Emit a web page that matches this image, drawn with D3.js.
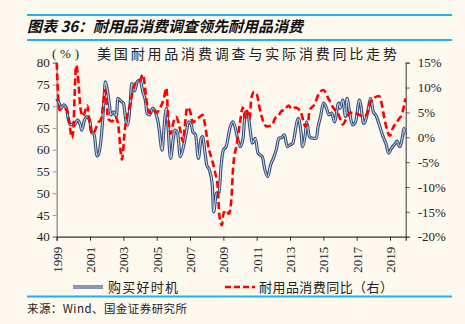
<!DOCTYPE html>
<html>
<head>
<meta charset="utf-8">
<script src="https://cdn.jsdelivr.net/npm/d3@7"></script>
<style>
  html, body { margin: 0; padding: 0; background: #fdf9ef; }
  svg { display: block; }
  .cjk { font-family: "Noto Sans CJK SC", sans-serif; }
  .num { font-family: "Liberation Serif", "DejaVu Serif", serif; }
</style>
</head>
<body>
<svg id="chart"></svg>
<script>
// months counted from Jan 1999
const goodTimeMonth = [0, 2, 3, 5, 7, 8, 10, 12, 13, 15, 17, 18, 20, 22, 24, 25, 27, 29, 30, 32, 34, 35, 36, 38, 39, 41, 43, 44, 46, 48, 50, 51, 53, 54, 56, 58, 60, 62, 64, 65, 67, 69, 71, 73, 76, 77, 79, 80, 82, 84, 85, 87, 89, 91, 93, 95, 97, 98, 100, 102, 104, 105, 107, 108, 110, 112, 113, 115, 117, 118, 120, 122, 125, 127, 130, 132, 134, 136, 138, 139, 141, 143, 145, 148, 150, 152, 154, 156, 158, 160, 162, 164, 166, 168, 170, 173, 174, 176, 177, 179, 180, 182, 185, 187, 188, 190, 192, 194, 196, 198, 200, 203, 204, 206, 208, 209, 211, 213, 215, 218, 219, 221, 224, 226, 228, 230, 232, 235, 237, 239, 241, 244, 245, 247, 249, 250, 251];
const goodTime = [71.8, 70.5, 69.5, 70.3, 69.6, 67.6, 65.7, 66.0, 65.7, 66.8, 65.7, 64.5, 66.8, 67.6, 66.4, 64.1, 63.4, 58.6, 58.8, 62.6, 71, 75.6, 74.5, 70.3, 68, 68.7, 67.6, 71.8, 71.2, 70.7, 66.4, 65.7, 71, 75.2, 73.5, 75.6, 76, 73.3, 71, 68.4, 68, 69.5, 68.7, 66.4, 59.9, 64, 69.5, 66, 58, 62.6, 64.5, 63.8, 58.4, 60.3, 63.4, 66.4, 65.7, 64.1, 63.4, 58, 62.6, 63, 58.8, 56.5, 55.3, 51.9, 45.7, 50, 50.3, 54.9, 59.9, 60.7, 65.3, 66.4, 63, 60.7, 62.2, 68.7, 67.8, 65.3, 61.5, 62.6, 59.2, 58.4, 55.3, 53.8, 56.5, 58, 59.9, 62.6, 62.8, 63.4, 60.7, 61.1, 61.5, 66.4, 67.2, 63.8, 60.7, 63.5, 66.4, 63, 62.6, 62.6, 64.9, 67.6, 70.7, 69.8, 68, 68.4, 66.4, 70.7, 69.5, 71.4, 67.6, 71.8, 68.4, 65.7, 66.2, 71.4, 70.2, 66, 68.7, 71.8, 68.7, 67.8, 66, 63, 61.5, 59.2, 60.3, 61.5, 62, 60.7, 63, 64.9, 63.4];

const durableMonth = [0, 2, 5, 7, 9, 11, 12, 13, 14, 16, 17, 19, 22, 24, 26, 30, 32, 35, 37, 40, 42, 44, 47, 49, 53, 56, 60, 62, 65, 67, 70, 72, 74, 77, 79, 80, 82, 84, 86, 89, 91, 92, 94, 96, 98, 101, 103, 105, 107, 109, 112, 114, 116, 117, 119, 120, 122, 124, 126, 127, 130, 132, 134, 136, 137, 139, 140, 142, 144, 146, 149, 151, 155, 157, 160, 162, 164, 167, 169, 172, 174, 176, 179, 181, 182, 186, 188, 192, 196, 199, 203, 206, 209, 211, 214, 218, 221, 223, 226, 229, 232, 234, 236, 240, 242, 246, 249, 251];
const durableYoY = [15, 5.5, 5.5, 5.7, 3, -0.1, 1.5, 9.1, 14.5, 10, 6, 4.2, 6.4, 2.2, 0.7, 3, 3.7, 9.5, 3.7, 3.2, 4.1, 3, -4.5, 1.4, 6.8, 10.6, 11.4, 12.6, 6.8, 4.9, 5.5, 4.9, 5.7, 7.6, 9.9, 5.3, 0.7, 3, 4.1, 1.4, -0.9, 1.5, 6, 5.3, 3, 3.7, 4.1, 4.5, 2.2, -1.6, -4.7, -7, -10.1, -15.4, -17.7, -15.4, -14.7, -15.4, -11.6, -6.2, -0.9, 3, 6, 3.9, 5.3, 3.7, 7.6, 9.1, 8.7, 6, 3, 2.2, 2.4, 3.7, 4.5, 5.3, 5.5, 6.4, 5.7, 6, 5.7, 4.9, 2.2, 3, 5.3, 6.8, 8.3, 9.5, 7.6, 6, 4.5, 2.6, 4.1, 4.9, 4.9, 4.5, 4.1, 4.5, 7.2, 8, 8.3, 6.8, 3.7, 0.3, 1.8, 3.5, 5, 7.8];

const yearTicks = [1999, 2001, 2003, 2005, 2007, 2009, 2011, 2013, 2015, 2017, 2019];
const leftTicks = [40, 45, 50, 55, 60, 65, 70, 75, 80];
const rightTicks = [-20, -15, -10, -5, 0, 5, 10, 15];
const seriesNames = ["购买好时机", "耐用品消费同比（右）"];

const width = 465, height = 324;
const plot = {left: 56.7, right: 405.7, top: 62.7, bottom: 236.7};

const svg = d3.select("#chart")
  .attr("width", width)
  .attr("height", height);

svg.append("rect")
  .attr("width", width).attr("height", height)
  .attr("fill", "#fdf9ef");

const x = d3.scaleLinear()
  .domain([0, 251.3])
  .range([plot.left, plot.right]);

const yL = d3.scaleLinear()
  .domain([40, 80])
  .range([plot.bottom, plot.top]);

const yR = d3.scaleLinear()
  .domain([-20, 15])
  .range([plot.bottom, plot.top]);

// header rules and title
const rule = y => svg.append("line")
  .attr("x1", 27).attr("x2", 452)
  .attr("y1", y).attr("y2", y)
  .attr("stroke", "#1eb2ef").attr("stroke-width", 2);
rule(15);
rule(40);
rule(296.5);

svg.append("text")
  .attr("class", "cjk")
  .attr("x", 27).attr("y", 31.5)
  .attr("font-size", 15).attr("font-weight", "bold").attr("font-style", "italic")
  .attr("fill", "#111")
  .text("图表 36：耐用品消费调查领先耐用品消费");

svg.append("text")
  .attr("class", "num")
  .attr("x", 52).attr("y", 58)
  .attr("font-size", 13).attr("fill", "#222")
  .attr("textLength", 27).attr("lengthAdjust", "spacing")
  .text("(%)");

svg.append("text")
  .attr("class", "cjk")
  .attr("x", 97).attr("y", 58.5)
  .attr("font-size", 14).attr("fill", "#222")
  .attr("textLength", 300).attr("lengthAdjust", "spacing")
  .text("美国耐用品消费调查与实际消费同比走势");

// axes
const left = svg.append("g")
  .attr("transform", `translate(${plot.left},0)`)
  .call(d3.axisLeft(yL).tickValues(leftTicks).tickSize(4).tickPadding(3));
left.select(".domain").attr("stroke", "#9a9a9a").attr("stroke-width", 1.5);
left.selectAll(".tick line").attr("stroke", "#9a9a9a");

const right = svg.append("g")
  .attr("transform", `translate(${plot.right},0)`)
  .call(d3.axisRight(yR).tickValues(rightTicks).tickSize(4).tickPadding(8).tickFormat(d => d + "%"));
right.select(".domain").attr("stroke", "#555").attr("stroke-width", 1.2);
right.selectAll(".tick line").attr("stroke", "#555");

const bottom = svg.append("g")
  .attr("transform", `translate(0,${plot.bottom})`)
  .call(d3.axisBottom(x).tickValues(yearTicks.map(yr => (yr - 1999) * 12)).tickSize(4).tickFormat((d, i) => yearTicks[i]));
bottom.select(".domain").attr("stroke", "#333").attr("stroke-width", 1.2);
bottom.selectAll(".tick line").attr("stroke", "#333");
bottom.selectAll("text")
  .attr("transform", "rotate(-90)")
  .attr("text-anchor", "end")
  .attr("x", -10).attr("y", 0).attr("dy", "0.35em");

svg.selectAll(".tick text")
  .attr("class", "num")
  .attr("font-size", 13)
  .attr("fill", "#222");

// series
const blueLine = d3.line()
  .x((d, i) => x(goodTimeMonth[i]))
  .y(d => yL(d))
  .curve(d3.curveMonotoneX);

const redLine = d3.line()
  .x((d, i) => x(durableMonth[i]))
  .y(d => yR(d))
  .curve(d3.curveMonotoneX);

svg.append("path")
  .attr("d", blueLine(goodTime))
  .attr("fill", "none").attr("stroke", "#34507f")
  .attr("stroke-width", 3.2).attr("stroke-linejoin", "round");
svg.append("path")
  .attr("d", blueLine(goodTime))
  .attr("fill", "none").attr("stroke", "#dde3ee")
  .attr("stroke-width", 1).attr("stroke-linejoin", "round");

svg.append("path")
  .attr("d", redLine(durableYoY))
  .attr("fill", "none").attr("stroke", "#ff0000")
  .attr("stroke-width", 2.6).attr("stroke-dasharray", "7,3.5");

// legend
const legendY = 287;
svg.append("line")
  .attr("x1", 73).attr("x2", 103).attr("y1", legendY).attr("y2", legendY)
  .attr("stroke", "#34507f").attr("stroke-width", 3.2);
svg.append("line")
  .attr("x1", 73).attr("x2", 103).attr("y1", legendY).attr("y2", legendY)
  .attr("stroke", "#dde3ee").attr("stroke-width", 1);
svg.append("line")
  .attr("x1", 225).attr("x2", 255).attr("y1", legendY).attr("y2", legendY)
  .attr("stroke", "#ff0000").attr("stroke-width", 2.6).attr("stroke-dasharray", "6,3");

svg.append("text")
  .attr("class", "cjk")
  .attr("x", 108).attr("y", legendY + 5)
  .attr("font-size", 13).attr("fill", "#222")
  .attr("textLength", 70).attr("lengthAdjust", "spacing")
  .text(seriesNames[0]);
svg.append("text")
  .attr("class", "cjk")
  .attr("x", 259).attr("y", legendY + 5)
  .attr("font-size", 13).attr("fill", "#222")
  .attr("textLength", 134).attr("lengthAdjust", "spacing")
  .text(seriesNames[1]);

svg.append("text")
  .attr("class", "cjk")
  .attr("x", 27).attr("y", 313)
  .attr("font-size", 11.5).attr("fill", "#222")
  .attr("textLength", 160).attr("lengthAdjust", "spacing")
  .text("来源：Wind、国金证券研究所");
</script>
</body>
</html>
